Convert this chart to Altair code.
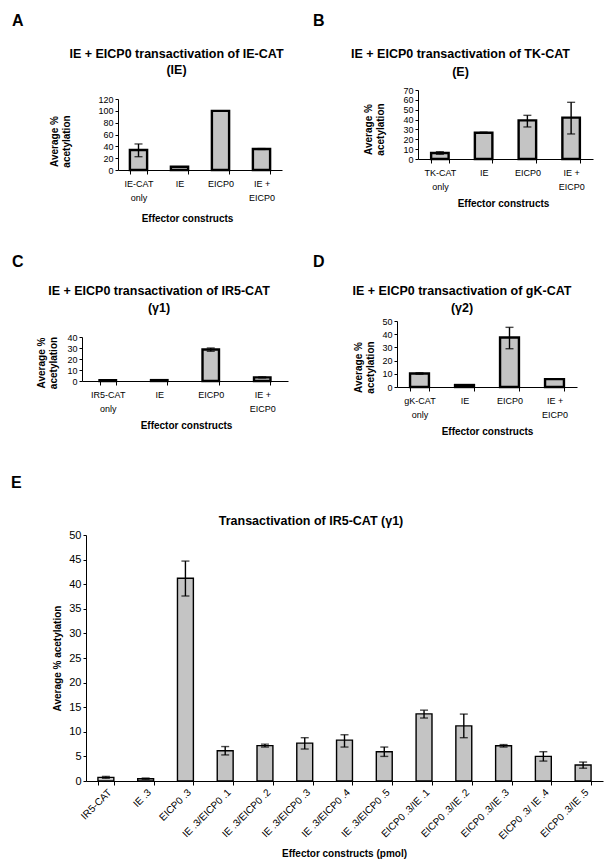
import altair as alt
import pandas as pd

FONT = "Liberation Sans"
FILL = "#c4c4c4"

# ---------------- data ----------------
a_cats = ["IE-CAT|only", "IE", "EICP0", "IE +|EICP0"]
a_vals = [33.8, 5.6, 100, 35.5]
a_lo = [22.5, None, None, 34.8]
a_hi = [44.0, None, None, 36.2]
a_ticks = [0, 20, 40, 60, 80, 100, 120]

b_cats = ["TK-CAT|only", "IE", "EICP0", "IE +|EICP0"]
b_vals = [6.1, 26.7, 39.2, 42.0]
b_lo = [4.8, 26.2, 32.5, 25.4]
b_hi = [7.4, 27.2, 44.3, 57.5]
b_ticks = [0, 10, 20, 30, 40, 50, 60, 70]

c_cats = ["IR5-CAT|only", "IE", "EICP0", "IE +|EICP0"]
c_vals = [0.8, 0.8, 28.6, 3.3]
c_lo = [None, None, 27.0, 2.8]
c_hi = [None, None, 30.0, 3.8]
c_ticks = [0, 10, 20, 30, 40]

d_cats = ["gK-CAT|only", "IE", "EICP0", "IE +|EICP0"]
d_vals = [10.2, 1.5, 37.5, 6.0]
d_lo = [9.6, None, 29.0, None]
d_hi = [10.8, None, 45.2, None]
d_ticks = [0, 10, 20, 30, 40, 50]

e_cats = ["IR5-CAT", "IE .3", "EICP0 .3", "IE .3/EICP0 .1", "IE .3/EICP0 .2",
          "IE .3/EICP0 .3", "IE .3/EICP0 .4", "IE .3/EICP0 .5", "EICP0 .3/IE .1",
          "EICP0 .3/IE .2", "EICP0 .3/IE .3", "EICP0 .3/ IE .4", "EICP0 .3/IE .5"]
e_vals = [0.74, 0.47, 41.2, 6.15, 7.2, 7.7, 8.3, 5.95, 13.65, 11.2, 7.16, 5.0, 3.24]
e_lo = [0.55, 0.35, 37.6, 5.3, 6.9, 6.5, 6.9, 5.0, 12.8, 8.8, 6.9, 4.05, 2.6]
e_hi = [0.93, 0.6, 44.7, 7.0, 7.5, 8.8, 9.4, 6.9, 14.4, 13.6, 7.4, 5.95, 3.85]
e_ticks = [0, 5, 10, 15, 20, 25, 30, 35, 40, 45, 50]

TOTAL_W, TOTAL_H = 597, 851


def panel(cats, vals, lo, hi, ticks, xr, yr, pad_in, sw, lab_size, x_axis_extra,
          x_title, y_title, y_title_x, y_title_y, x_title_x, x_title_y, ylab_size, cap):
    df = pd.DataFrame({"cat": cats, "val": vals, "lo": lo, "hi": hi})
    xaxis = alt.Axis(orient="bottom", offset=yr[0] - TOTAL_H, tickBand="extent",
                     labelFontSize=lab_size, labelOverlap=False, tickSize=4,
                     title=x_title,
                     titleFontSize=10, titleFontWeight="bold", titleX=x_title_x,
                     titleY=x_title_y, titleAlign="center", titleBaseline="middle",
                     domainWidth=1, **x_axis_extra)
    yaxis = alt.Axis(orient="left", offset=-xr[0], values=ticks, tickSize=3,
                     labelPadding=2, labelFontSize=ylab_size, title=y_title,
                     titleFontSize=10, titleFontWeight="bold", titleAngle=270,
                     titleX=y_title_x, titleY=y_title_y, titleAlign="center",
                     titleBaseline="middle", titleLineHeight=12, domainWidth=1)
    xs = alt.Scale(range=xr, paddingInner=pad_in, paddingOuter=pad_in / 2)
    ys = alt.Scale(domain=[ticks[0], ticks[-1]], range=[yr[0], yr[1]], nice=False)
    X = alt.X("cat:N", sort=cats, scale=xs, axis=xaxis)
    base = alt.Chart(df)
    bars = base.mark_bar(fill=FILL, stroke="black", strokeWidth=sw).encode(
        x=X, y=alt.Y("val:Q", scale=ys, axis=yaxis))
    rules = base.mark_rule(color="black", strokeWidth=1.4).encode(
        x=X, y=alt.Y("lo:Q", scale=ys, axis=yaxis), y2="hi:Q")
    cap_lo = base.mark_tick(color="black", thickness=1.4, size=cap).encode(
        x=X, y=alt.Y("lo:Q", scale=ys, axis=yaxis))
    cap_hi = base.mark_tick(color="black", thickness=1.4, size=cap).encode(
        x=X, y=alt.Y("hi:Q", scale=ys, axis=yaxis))
    return alt.layer(bars, rules, cap_lo, cap_hi)


two_line = dict(labelAngle=0, labelExpr="split(datum.label, '|')",
                labelLineHeight=14, labelPadding=5)
rot = dict(labelAngle=315, labelPadding=2)
YT = ["Average %", "acetylation"]

pA = panel(a_cats, a_vals, a_lo, a_hi, a_ticks, [110, 274], [162, 91], 0.58, 2.4, 9,
           two_line, "Effector constructs", YT, -64, 133, 179, 48, 9, 8)
pB = panel(b_cats, b_vals, b_lo, b_hi, b_ticks, [410, 585], [151, 82], 0.6, 2.4, 9,
           two_line, "Effector constructs", YT, -50, 121, 495, 44, 9, 8)
pC = panel(c_cats, c_vals, c_lo, c_hi, c_ticks, [74, 280], [373, 329], 0.68, 2.4, 9,
           two_line, "Effector constructs", YT, -40.5, 354.5, 178, 44, 9, 8)
pD = panel(d_cats, d_vals, d_lo, d_hi, d_ticks, [389, 569], [379, 313], 0.58, 2.4, 9,
           two_line, "Effector constructs", YT, -38.5, 359, 479, 44, 9, 8)
pE = panel(e_cats, e_vals, e_lo, e_hi, e_ticks, [78, 595], [773, 527], 0.6, 1.4, 10,
           rot, "Effector constructs (pmol)", "Average % acetylation", -29, 650,
           336, 72, 11, 8)


def label(txt, x, y, size, align="center"):
    return alt.Chart(alt.Data(values=[{}])).mark_text(
        x=x, y=y, align=align, baseline="middle", font=FONT, fontSize=size,
        fontWeight="bold", color="black").encode(text=alt.value(txt))


texts = [
    label("A", 4, 13, 16, "left"),
    label("B", 305, 13, 16, "left"),
    label("C", 4, 254, 16, "left"),
    label("D", 305, 254, 16, "left"),
    label("E", 3, 475, 16, "left"),
    label("IE + EICP0 transactivation of IE-CAT", 168.5, 46, 12.5),
    label("(IE)", 168.5, 62, 12.5),
    label("IE + EICP0 transactivation of TK-CAT", 452.5, 46, 12.5),
    label("(E)", 452.5, 64, 12.5),
    label("IE + EICP0 transactivation of IR5-CAT", 151, 283, 12.5),
    label("(γ1)", 151, 300, 12.5),
    label("IE + EICP0 transactivation of gK-CAT", 454, 283, 12.5),
    label("(γ2)", 454, 300, 12.5),
    label("Transactivation of IR5-CAT (γ1)", 303, 513, 12.5),
]

chart = alt.layer(pA, pB, pC, pD, pE, *texts).resolve_scale(
    x="independent", y="independent"
).resolve_axis(
    x="independent", y="independent"
).properties(
    width=TOTAL_W, height=TOTAL_H, padding=0,
    autosize=alt.AutoSizeParams(type="none"),
    background="white",
).configure_view(stroke=None).configure_axis(
    labelFont=FONT, titleFont=FONT, labelColor="black", titleColor="black",
    domainColor="black", tickColor="black", grid=False
)

chart.save("out.html", embed_options={"renderer": "svg", "actions": False})
